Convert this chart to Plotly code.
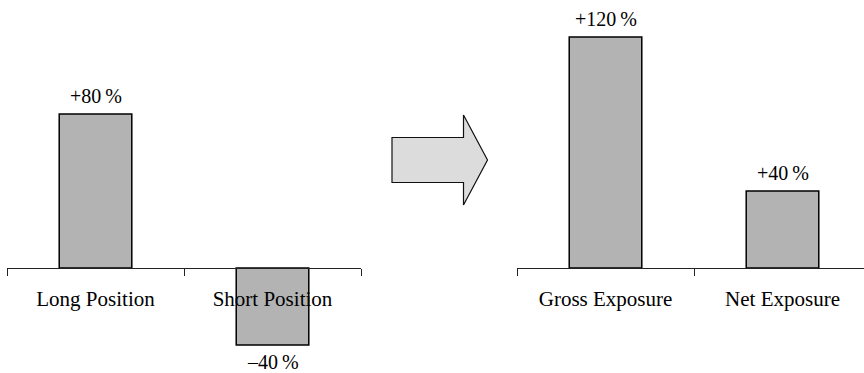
import plotly.graph_objects as go

# Exposure figures (percent of capital)
positions = ["Long Position", "Short Position"]
position_values = [80, -40]

exposures = ["Gross Exposure", "Net Exposure"]
exposure_values = [120, 40]

W, H = 864, 373
FONT = "Liberation Serif, Times New Roman, serif"
BAR_FILL = "#b3b3b3"
Y_RANGE = [-54.5, 139.2]
ZERO_FRAC = (0 - Y_RANGE[0]) / (Y_RANGE[1] - Y_RANGE[0])


def pct_label(v):
    sign = "+" if v > 0 else "\u2013"
    return f"{sign}{abs(v)}\u2009%"


fig = go.Figure()

fig.add_trace(go.Bar(
    x=positions, y=position_values, xaxis="x", yaxis="y",
    width=0.41, marker=dict(color=BAR_FILL, line=dict(color="#000", width=1.5)),
    showlegend=False, hoverinfo="skip",
))
fig.add_trace(go.Bar(
    x=exposures, y=exposure_values, xaxis="x2", yaxis="y2",
    width=0.41, marker=dict(color=BAR_FILL, line=dict(color="#000", width=1.5)),
    showlegend=False, hoverinfo="skip",
))

# value labels above positive bars, below negative ones
annotations = []
for cats, vals, xr, yr in [(positions, position_values, "x", "y"),
                           (exposures, exposure_values, "x2", "y2")]:
    for c, v in zip(cats, vals):
        annotations.append(dict(
            x=c, y=v, xref=xr, yref=yr, text=pct_label(v), showarrow=False,
            yanchor="bottom" if v > 0 else "top",
            yshift=5 if v > 0 else -4,
            font=dict(family=FONT, size=20, color="#000"),
        ))

axis_common = dict(
    type="category", anchor="free", position=ZERO_FRAC,
    showline=True, linecolor="#222", linewidth=1.3,
    ticks="outside", tickson="boundaries", ticklen=7, tickwidth=1.3, tickcolor="#222",
    showgrid=False, zeroline=False,
    tickfont=dict(family=FONT, size=21, color="#000"),
    ticklabelstandoff=12,
)

left_px, right_px = 7, 361
cat_w = (right_px - left_px) / 2
r_start = 517
r_end_val = -0.5 + (W - r_start) / cat_w

fig.update_layout(
    width=W, height=H,
    margin=dict(l=0, r=0, t=0, b=0),
    paper_bgcolor="white", plot_bgcolor="rgba(0,0,0,0)",
    bargap=0.59,
    xaxis=dict(domain=[left_px / W, right_px / W], range=[-0.5, 1.5], **axis_common),
    xaxis2=dict(domain=[r_start / W, 1.0], range=[-0.5, r_end_val], **axis_common),
    yaxis=dict(domain=[0, 1], range=Y_RANGE, visible=False, anchor="x"),
    yaxis2=dict(domain=[0, 1], range=Y_RANGE, visible=False, anchor="x2"),
    annotations=annotations,
)

# block arrow between the two panels
pts_px = [(392, 137.5), (463.5, 137.5), (463.5, 115), (487.5, 160),
          (463.5, 205), (463.5, 182.5), (392, 182.5)]
path = "M " + " L ".join(f"{x / W:.5f},{1 - y / H:.5f}" for x, y in pts_px) + " Z"
fig.add_shape(type="path", xref="paper", yref="paper", path=path,
              fillcolor="#dcdcdc", line=dict(color="#111", width=1.2))

fig.write_html("out.html")
